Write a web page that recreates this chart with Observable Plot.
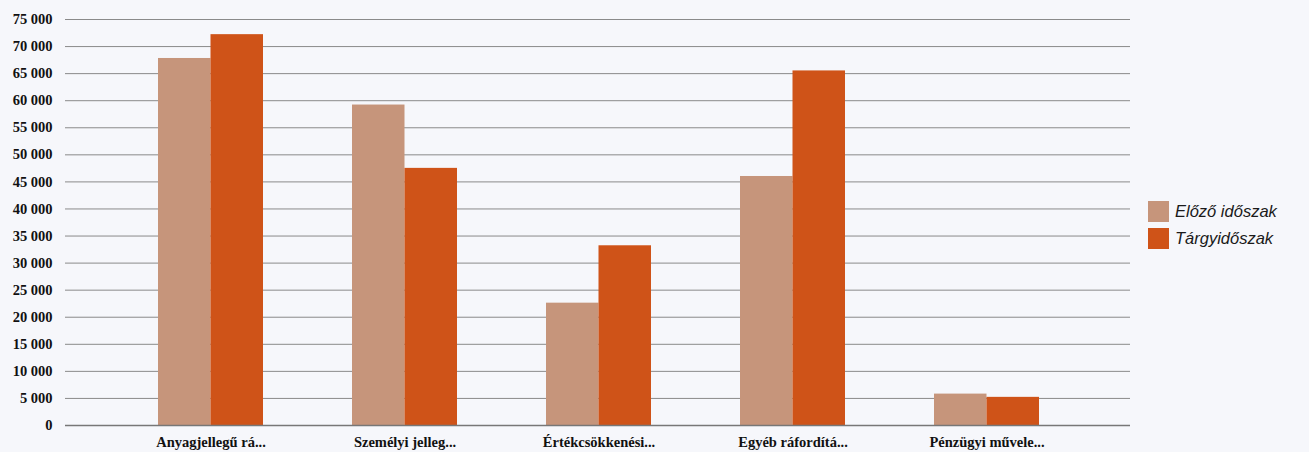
<!DOCTYPE html>
<html>
<head>
<meta charset="utf-8">
<script src="https://cdn.jsdelivr.net/npm/d3@7"></script>
<script src="https://cdn.jsdelivr.net/npm/@observablehq/plot@0.6"></script>
<style>
  html, body { margin: 0; padding: 0; background: #f6f7fb; }
  #wrap { position: relative; width: 1309px; height: 452px; overflow: hidden; }
  #legend { position: absolute; left: 1148px; top: 198px; font-family: "Liberation Sans", Arial, sans-serif; font-style: italic; font-size: 16.5px; color: #1a1a1a; }
  #legend .item { display: flex; align-items: center; height: 27px; }
  #legend .sw { width: 21px; height: 21px; margin-right: 6px; }
</style>
</head>
<body>
<div id="wrap">
  <div id="chart"></div>
  <div id="legend"></div>
</div>
<script>
const categories = ["Anyagjellegű rá...", "Személyi jelleg...", "Értékcsökkenési...", "Egyéb ráfordítá...", "Pénzügyi művele..."];
const seriesNames = ["Előző időszak", "Tárgyidőszak"];
const elozo = [67800, 59200, 22600, 46000, 5800];
const targy = [72200, 47500, 33200, 65500, 5200];
const yTicks = [0, 5000, 10000, 15000, 20000, 25000, 30000, 35000, 40000, 45000, 50000, 55000, 60000, 65000, 70000, 75000];
const colors = ["#c6957b", "#cf5318"];

const fmt = d3.formatLocale({thousands: " ", grouping: [3], decimal: ","}).format(",d");
const dataE = categories.map((c, i) => ({cat: c, series: seriesNames[0], value: elozo[i]}));
const dataT = categories.map((c, i) => ({cat: c, series: seriesNames[1], value: targy[i]}));

const W = 1309, H = 452;
const chart = Plot.plot({
  width: W,
  height: H,
  marginLeft: 65,
  marginRight: 179,
  marginTop: 19,
  marginBottom: 27,
  style: {background: "transparent", fontFamily: "'Liberation Serif', 'Times New Roman', serif", fontWeight: "bold", fontSize: "14.5px", color: "#111"},
  x: {domain: categories, range: [111.6, 1085.4], paddingInner: 0.461, paddingOuter: 0.2305, label: null, tickSize: 0, tickPadding: 11},
  y: {domain: [0, 75000], ticks: yTicks, tickFormat: fmt, label: null, tickSize: 0, tickPadding: 13},
  color: {domain: seriesNames, range: colors},
  marks: [
    Plot.ruleY(yTicks, {stroke: "#8a8a8a", strokeWidth: 1}),
    Plot.ruleX([0], {x: () => null, frameAnchor: "left", y1: 78000, y2: -1000, stroke: "#9a9a9a"}),
    Plot.barY(dataE, {x: "cat", y: "value", fill: "series", insetRight: 52.5}),
    Plot.barY(dataT, {x: "cat", y: "value", fill: "series", insetLeft: 52.5}),
    Plot.ruleY([0], {stroke: "#777", strokeWidth: 1.5})
  ]
});
document.getElementById("chart").appendChild(chart);

const legend = document.getElementById("legend");
seriesNames.forEach((s, i) => {
  const it = document.createElement("div");
  it.className = "item";
  it.innerHTML = `<span class="sw" style="background:${colors[i]}"></span><span>${s}</span>`;
  legend.appendChild(it);
});
</script>
</body>
</html>
